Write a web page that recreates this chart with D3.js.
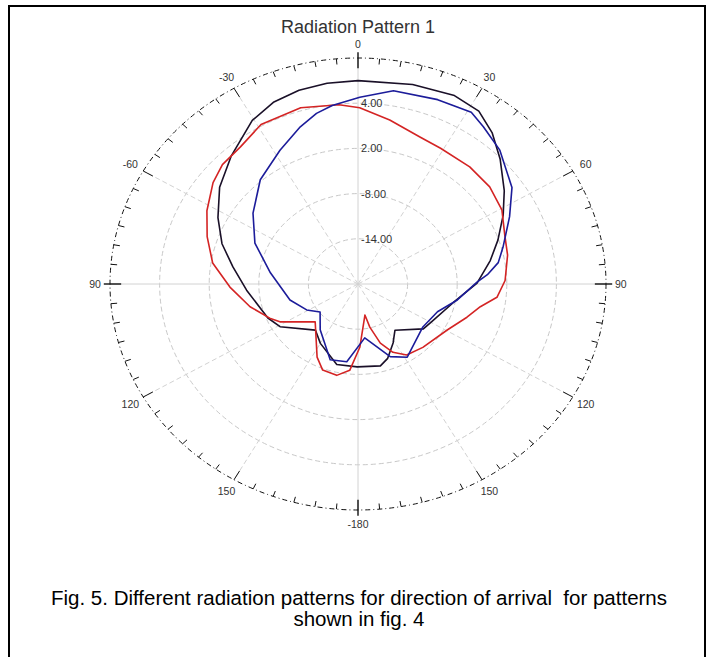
<!DOCTYPE html>
<html>
<head>
<meta charset="utf-8">
<script src="https://cdn.jsdelivr.net/npm/d3@7"></script>
<style>
  body { margin: 0; background: #fff; }
  svg { display: block; font-family: "Liberation Sans", Arial, sans-serif; }
</style>
</head>
<body>
<svg id="chart" width="712" height="657"></svg>
<script>
// angles in degrees (clockwise from top), values in dB
var blackAngles = [0, 14, 25, 32.5, 39, 46, 55, 62.5, 71, 79, 89.5, 102, 118, 127, 144, 151.5, 160, 166, 180.5, 193.5, 210, 220, 239, 247.5, 266.5, 278.5, 288, 297.5, 307.5, 318, 329.5, 337, 344.5, 352];
var blackValues = [7.0, 7.3, 7.6, 7.2, 5.8, 3.9, 1.6, -0.2, -2.1, -3.7, -5.6, -8.2, -9.7, -10.1, -12.4, -11.1, -9.5, -8.8, -9.0, -9.0, -10.9, -12.0, -9.0, -8.2, -6.5, -4.7, -2.7, -0.9, 1.1, 2.9, 5.2, 6.2, 6.7, 6.9];

var blueAngles = [0.5, 9.5, 21.5, 31, 36, 44, 55.5, 64, 74.5, 80.5, 85.5, 89, 100, 111, 126, 148.5, 158, 173.5, 187.5, 198.5, 217, 231, 241, 255.5, 278, 293.5, 306.5, 319.5, 332, 341.5, 347.5, 352.5];
var blueValues = [4.8, 6.0, 6.3, 6.6, 5.8, 4.7, 2.6, 0.4, -1.8, -2.8, -4.3, -5.6, -7.8, -9.7, -10.3, -8.6, -9.6, -12.8, -9.6, -9.4, -12.4, -14.1, -12.9, -11.5, -9.3, -6.4, -4.2, -1.8, 0.1, 2.0, 3.2, 3.9];

var redAngles = [-5.5, 0.5, 10, 21, 29, 41, 51, 60.5, 70, 78, 88.5, 96, 101.5, 108.5, 119.5, 137, 148, 155, 161, 166, 168.5, 178.5, 185, 192, 200.5, 207, 226, 242, 247, 257, 268.5, 279, 289, 298, 307.5, 314, 322, 331, 343.5];
var redValues = [3.9, 3.4, 2.1, 0.9, 0.6, 0.6, 0.5, 0.0, -1.1, -1.5, -2.2, -3.1, -4.9, -6.1, -7.6, -8.5, -8.9, -10.0, -11.7, -14.1, -15.8, -11.6, -8.5, -7.6, -7.8, -9.1, -12.8, -9.3, -8.4, -6.6, -4.5, -2.2, -0.7, 0.7, 2.1, 2.8, 3.1, 4.2, 4.4];

var ringValues = [-14, -8, -2, 4];
var ringLabels = ["-14.00", "-8.00", "2.00", "4.00"];
var spokeAngles = [0, 30, 60, 90, 120, 150, 180, 210, 240, 270, 300, 330];
var angleLabels = ["0", "30", "60", "90", "120", "150", "-180", "150", "120", "90", "-60", "-30"];

(function () {
    var svg = d3.select("#chart");
    var cx = 358, cy = 284, rx = 248, ry = 226;

    var r = d3.scaleLinear().domain([-20, 10]).range([0, 1]);
    var rad = function (a) { return a * Math.PI / 180; };
    function px(a, n) { return cx + rx * n * Math.sin(rad(a)); }
    function py(a, n) { return cy - ry * n * Math.cos(rad(a)); }

    // frame
    svg.append("rect")
        .attr("x", 9).attr("y", 6)
        .attr("width", 696).attr("height", 700)
        .attr("fill", "none")
        .attr("stroke", "#000")
        .attr("stroke-width", 2);

    svg.append("text")
        .attr("x", cx).attr("y", 33)
        .attr("text-anchor", "middle")
        .attr("font-size", 18)
        .attr("fill", "#333")
        .text("Radiation Pattern 1");

    var g = svg.append("g");

    // grid rings
    g.selectAll(".ring")
        .data(ringValues)
        .enter().append("ellipse")
        .attr("class", "ring")
        .attr("cx", cx).attr("cy", cy)
        .attr("rx", function (d) { return rx * r(d); })
        .attr("ry", function (d) { return ry * r(d); })
        .attr("fill", "none")
        .attr("stroke", "#c8c8c8")
        .attr("stroke-dasharray", "5,3");

    // spokes
    g.selectAll(".spoke")
        .data(spokeAngles)
        .enter().append("line")
        .attr("class", "spoke")
        .attr("x1", cx).attr("y1", cy)
        .attr("x2", function (d) { return px(d, 1); })
        .attr("y2", function (d) { return py(d, 1); })
        .attr("stroke", "#d2d2d2")
        .attr("stroke-dasharray", function (d) { return d % 90 === 0 ? null : "5,3"; });

    // outer boundary
    g.append("ellipse")
        .attr("cx", cx).attr("cy", cy)
        .attr("rx", rx).attr("ry", ry)
        .attr("fill", "none")
        .attr("stroke", "#111")
        .attr("stroke-dasharray", "5,3,1,3");

    // ticks every 5 degrees, pointing inward
    g.selectAll(".tick")
        .data(d3.range(0, 360, 5))
        .enter().append("line")
        .attr("class", "tick")
        .attr("x1", function (d) { return px(d, d % 90 === 0 ? 1.025 : 1); })
        .attr("y1", function (d) { return py(d, d % 90 === 0 ? 1.025 : 1); })
        .attr("x2", function (d) { return px(d, d % 30 === 0 ? 0.955 : 0.975); })
        .attr("y2", function (d) { return py(d, d % 30 === 0 ? 0.955 : 0.975); })
        .attr("stroke", "#111")
        .attr("stroke-width", function (d) { return d % 90 === 0 ? 1.4 : 1; });

    // angle labels
    g.selectAll(".alabel")
        .data(spokeAngles)
        .enter().append("text")
        .attr("class", "alabel")
        .attr("x", function (d) { return px(d, 1.06); })
        .attr("y", function (d) { return py(d, 1.06); })
        .attr("text-anchor", "middle")
        .attr("dominant-baseline", "central")
        .attr("font-size", 10.5)
        .attr("fill", "#333")
        .text(function (d, i) { return angleLabels[i]; });

    // ring labels
    g.selectAll(".rlabel")
        .data(ringValues)
        .enter().append("text")
        .attr("class", "rlabel")
        .attr("x", cx + 3)
        .attr("y", function (d) { return cy - ry * r(d); })
        .attr("dominant-baseline", "central")
        .attr("font-size", 11)
        .attr("fill", "#333")
        .text(function (d, i) { return ringLabels[i]; });

    var series = [
        { angles: blackAngles, values: blackValues, color: "#1a1028" },
        { angles: redAngles, values: redValues, color: "#d42424" },
        { angles: blueAngles, values: blueValues, color: "#1c1c9a" }
    ];

    var line = d3.line()
        .x(function (d) { return px(d[0], r(d[1])); })
        .y(function (d) { return py(d[0], r(d[1])); })
        .curve(d3.curveLinearClosed);

    series.forEach(function (s) {
        var pts = s.angles.map(function (a, i) { return [a, s.values[i]]; });
        g.append("path")
            .attr("d", line(pts))
            .attr("fill", "none")
            .attr("stroke", s.color)
            .attr("stroke-width", 1.6)
            .attr("stroke-linejoin", "round");
    });

    // caption
    svg.append("text")
        .attr("x", 359).attr("y", 605)
        .attr("text-anchor", "middle")
        .attr("font-size", 20.5)
        .attr("fill", "#000")
        .style("white-space", "pre")
        .text("Fig. 5. Different radiation patterns for direction of arrival  for patterns");
    svg.append("text")
        .attr("x", 359).attr("y", 626)
        .attr("text-anchor", "middle")
        .attr("font-size", 20.5)
        .attr("fill", "#000")
        .text("shown in fig. 4");
})();
</script>
</body>
</html>
